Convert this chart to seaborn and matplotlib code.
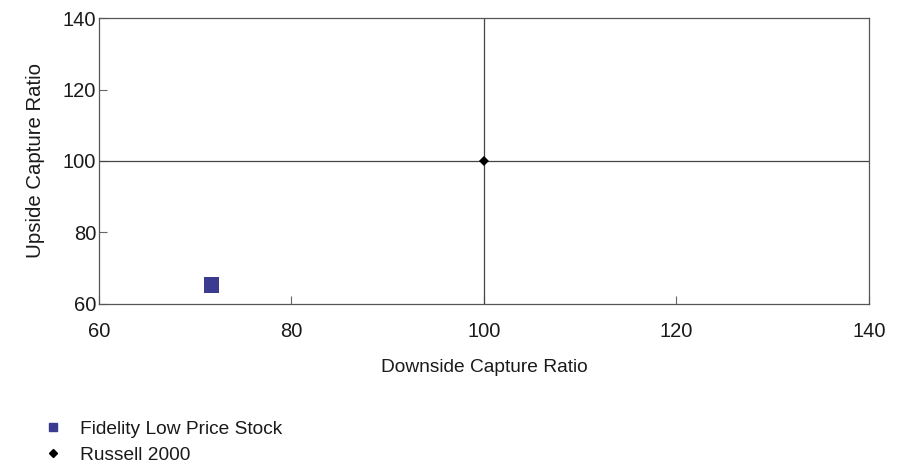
import matplotlib
matplotlib.use('Agg')
import matplotlib.pyplot as plt
import seaborn as sns
import pandas as pd

# values
names = ['Fidelity Low Price Stock', 'Russell 2000']
downside = [71.7, 100.0]
upside = [65.3, 100.0]
colors = ['#3b3b8f', '#000000']
markers = ['s', 'D']
sizes = [120, 26]

ticks = [60, 80, 100, 120, 140]

sns.set_style('white')
plt.rcParams['font.family'] = ['Liberation Sans', 'DejaVu Sans']

df = pd.DataFrame({'name': names, 'down': downside, 'up': upside})

fig = plt.figure(figsize=(9.06, 4.69), dpi=100)
ax = fig.add_axes([0.1093, 0.352, 0.8497, 0.6095])

ax.axvline(100, color='#444444', lw=0.9, zorder=1)
ax.axhline(100, color='#444444', lw=0.9, zorder=1)

for i, n in enumerate(names):
    sns.scatterplot(data=df[df.name == n], x='down', y='up', ax=ax,
                    color=colors[i], marker=markers[i], s=sizes[i],
                    edgecolor='none', zorder=3, legend=False)

ax.set_xlim(60, 140)
ax.set_ylim(60, 140)
ax.set_xticks(ticks)
ax.set_yticks(ticks)
ax.tick_params(direction='in', length=6, width=0.8, color='#666666',
               labelsize=14.5, labelcolor='#1a1a1a', bottom=True, left=True)
ax.tick_params(axis='x', pad=13)
ax.tick_params(axis='y', pad=2)
for s in ax.spines.values():
    s.set_color('#555555')
    s.set_linewidth(0.9)

ax.set_xlabel('Downside Capture Ratio', fontsize=13.8, labelpad=13, color='#1a1a1a')
ax.set_ylabel('Upside Capture Ratio', fontsize=14.7, labelpad=13, color='#1a1a1a')

handles = [plt.Line2D([], [], ls='none', marker=markers[i], color=colors[i],
                      markersize=6 if i == 0 else 4.5) for i in range(2)]
leg = fig.legend(handles, names, loc='upper left', bbox_to_anchor=(0.048, 0.103),
                 frameon=False, fontsize=13.8, handletextpad=0.9, labelspacing=0.45,
                 handlelength=1.0, borderaxespad=0, borderpad=0)
for t in leg.get_texts():
    t.set_color('#1a1a1a')

fig.savefig('out.png', dpi=100)
